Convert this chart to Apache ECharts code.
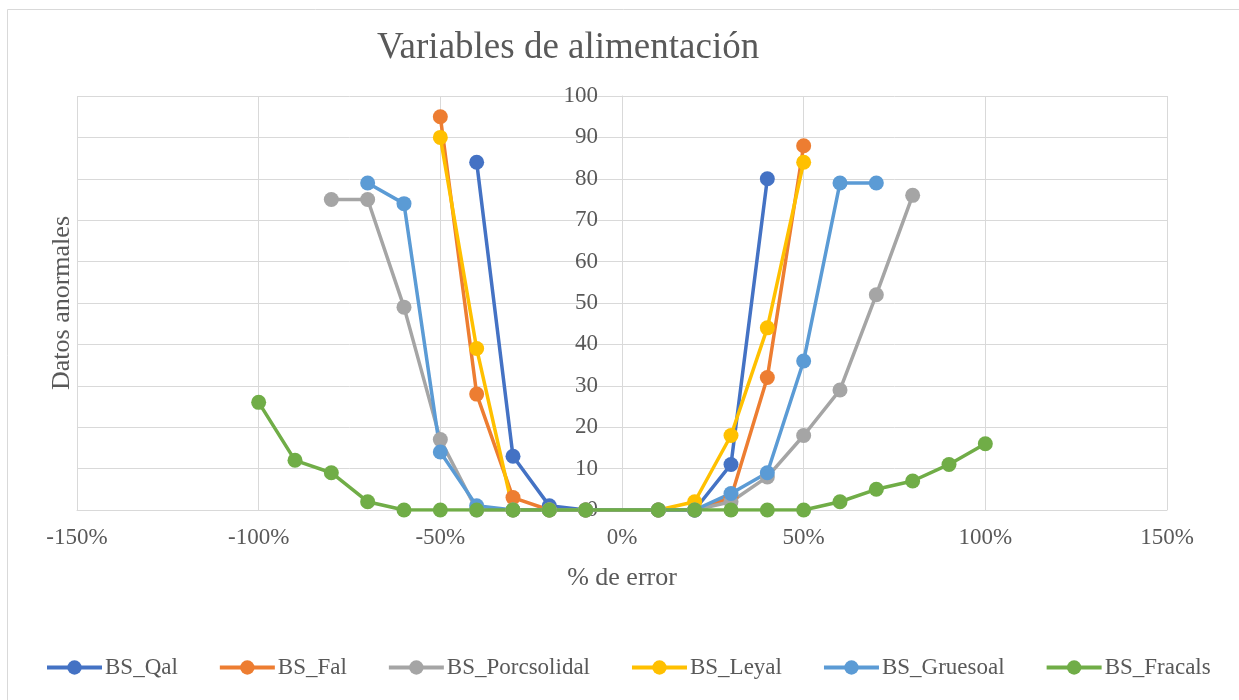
<!DOCTYPE html>
<html>
<head>
<meta charset="utf-8">
<script src="https://cdn.jsdelivr.net/npm/echarts@6/dist/echarts.min.js"></script>
<style>
  html, body { margin: 0; padding: 0; background: #fff; }
  #chart { width: 1239px; height: 700px; }
</style>
</head>
<body>
<div id="chart"></div>
<script>
// Error percentages (x) and abnormal-data counts (y) for each feed variable
const qalX = [-40, -30, -20, -10, 10, 20, 30, 40];
const qalY = [84, 13, 1, 0, 0, 0, 11, 80];

const falX = [-50, -40, -30, -20, -10, 10, 20, 30, 40, 50];
const falY = [95, 28, 3, 0, 0, 0, 0, 3, 32, 88];

const porcX = [-80, -70, -60, -50, -40, -30, -20, -10, 10, 20, 30, 40, 50, 60, 70, 80];
const porcY = [75, 75, 49, 17, 0, 0, 0, 0, 0, 0, 2, 8, 18, 29, 52, 76];

const leyX = [-50, -40, -30, -20, -10, 10, 20, 30, 40, 50];
const leyY = [90, 39, 0, 0, 0, 0, 2, 18, 44, 84];

const gruesoX = [-70, -60, -50, -40, -30, -20, -10, 10, 20, 30, 40, 50, 60, 70];
const gruesoY = [79, 74, 14, 1, 0, 0, 0, 0, 0, 4, 9, 36, 79, 79];

const fracX = [-100, -90, -80, -70, -60, -50, -40, -30, -20, -10, 10, 20, 30, 40, 50, 60, 70, 80, 90, 100];
const fracY = [26, 12, 9, 2, 0, 0, 0, 0, 0, 0, 0, 0, 0, 0, 0, 2, 5, 7, 11, 16];

const seriesNames = ['BS_Qal', 'BS_Fal', 'BS_Porcsolidal', 'BS_Leyal', 'BS_Gruesoal', 'BS_Fracals'];
const seriesX = [qalX, falX, porcX, leyX, gruesoX, fracX];
const seriesY = [qalY, falY, porcY, leyY, gruesoY, fracY];
const seriesColors = ['#4472C4', '#ED7D31', '#A5A5A5', '#FFC000', '#5B9BD5', '#70AD47'];

const xTicks = { min: -150, max: 150, step: 50 };
const yTicks = { min: 0, max: 100, step: 10 };

const FONT = '"Liberation Serif", "Times New Roman", serif';
const TEXT = '#595959';
const GRID = '#D9D9D9';

const GRID_LEFT = 77;
const GRID_RIGHT = 72;
const CHART_W = 1239;

const chart = echarts.init(document.getElementById('chart'), null, { renderer: 'canvas' });

// horizontal distance from the plot's left edge to the 0% line
const plotW = CHART_W - GRID_LEFT - GRID_RIGHT;
const zeroShift = plotW * (0 - xTicks.min) / (xTicks.max - xTicks.min);

const series = seriesNames.map((name, i) => ({
  name: name,
  type: 'line',
  data: seriesX[i].map((x, j) => [x, seriesY[i][j]]),
  symbol: 'circle',
  symbolSize: 15,
  showSymbol: true,
  lineStyle: { width: 3.5, color: seriesColors[i] },
  itemStyle: { color: seriesColors[i] },
  emphasis: { disabled: true },
  animation: false
}));

chart.setOption({
  backgroundColor: '#ffffff',
  animation: false,
  title: {
    text: 'Variables de alimentación',
    left: 372,
    top: 25,
    textStyle: { fontFamily: FONT, fontSize: 37, fontWeight: 'normal', color: TEXT }
  },
  grid: { left: GRID_LEFT, right: GRID_RIGHT, top: 96, bottom: 190, containLabel: false },
  xAxis: {
    type: 'value',
    min: xTicks.min,
    max: xTicks.max,
    interval: xTicks.step,
    name: '% de error',
    nameLocation: 'middle',
    nameGap: 55,
    nameTextStyle: { fontFamily: FONT, fontSize: 26, color: TEXT },
    axisLine: { show: true, onZero: false, lineStyle: { color: GRID, width: 1 } },
    axisTick: { show: false },
    axisLabel: {
      fontFamily: FONT, fontSize: 23, color: TEXT, margin: 16,
      formatter: v => v + '%'
    },
    splitLine: { show: true, lineStyle: { color: GRID, width: 1 } }
  },
  yAxis: {
    type: 'value',
    min: yTicks.min,
    max: yTicks.max,
    interval: yTicks.step,
    position: 'left',
    // move the value axis inward so it stands on the 0% line
    offset: -zeroShift,
    axisLine: { show: true, onZero: false, lineStyle: { color: GRID, width: 1 } },
    axisTick: { show: false },
    axisLabel: { fontFamily: FONT, fontSize: 23, color: TEXT, margin: 24 },
    splitLine: { show: true, lineStyle: { color: GRID, width: 1 } }
  },
  legend: {
    data: seriesNames,
    left: 40,
    top: 651,
    itemWidth: 55,
    itemHeight: 18,
    itemGap: 40,
    lineStyle: { width: 4 },
    textStyle: { fontFamily: FONT, fontSize: 23, color: TEXT, padding: [0, 0, 0, -2] }
  },
  graphic: [
    {
      type: 'rect',
      silent: true,
      shape: { x: 7.5, y: 9.5, width: 1300, height: 800 },
      style: { fill: 'none', stroke: GRID, lineWidth: 1 },
      z: -10
    },
    {
      type: 'text',
      silent: true,
      x: 62,
      y: 303,
      rotation: Math.PI / 2,
      style: {
        text: 'Datos anormales',
        fontFamily: FONT,
        fontSize: 26,
        fill: TEXT,
        align: 'center',
        verticalAlign: 'middle'
      }
    }
  ],
  series: series
});
</script>
</body>
</html>
